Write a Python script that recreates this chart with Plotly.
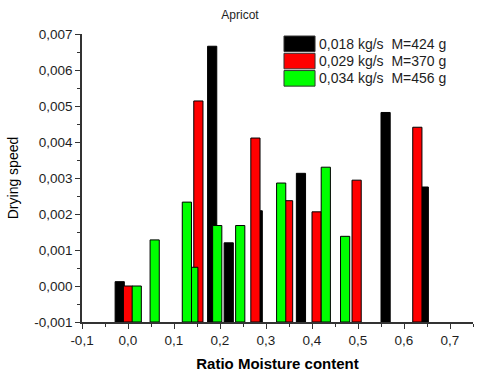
import plotly.graph_objects as go

# Ratio moisture content (x) and drying speed (y) for each air flow
black_x = [-0.018, 0.183, 0.219, 0.282, 0.376, 0.560, 0.643]
black_y = [0.00012, 0.00666, 0.00120, 0.00209, 0.00313, 0.00482, 0.00275]

red_x = [0.000, 0.153, 0.277, 0.348, 0.410, 0.497, 0.629]
red_y = [0.00000, 0.00514, 0.00411, 0.00237, 0.00206, 0.00294, 0.00441]

green_x = [0.019, 0.058, 0.142, 0.128, 0.194, 0.244, 0.333, 0.430, 0.472]
green_y = [0.00000, 0.00128, 0.00052, 0.00233, 0.00168, 0.00168, 0.00286, 0.00330, 0.00138]

series_names = ["0,018 kg/s\u00a0 M=424 g", "0,029 kg/s\u00a0 M=370 g", "0,034 kg/s\u00a0 M=456 g"]
series_colors = ["#000000", "#ff0000", "#00ff00"]

y_ticks = [-0.001, 0.0, 0.001, 0.002, 0.003, 0.004, 0.005, 0.006, 0.007]
y_ticktext = ["-0,001", "0,000", "0,001", "0,002", "0,003", "0,004", "0,005", "0,006", "0,007"]
x_ticks = [-0.1, 0.0, 0.1, 0.2, 0.3, 0.4, 0.5, 0.6, 0.7]
x_ticktext = ["-0,1", "0,0", "0,1", "0,2", "0,3", "0,4", "0,5", "0,6", "0,7"]

Y_MIN = -0.001
FONT = "Liberation Sans, Arial, sans-serif"
TEXT_COLOR = "#1e1e1e"

fig = go.Figure()
for xs, ys, name, color in zip(
    [black_x, red_x, green_x], [black_y, red_y, green_y], series_names, series_colors
):
    fig.add_trace(
        go.Bar(
            x=xs,
            y=[v - Y_MIN for v in ys],
            base=Y_MIN,
            width=0.02,
            name=name,
            marker=dict(color=color, line=dict(color="#000000", width=1)),
            showlegend=False,
        )
    )

# hand-made legend with big swatches like the original
row_h = 0.06
for i, (name, color) in enumerate(zip(series_names, series_colors)):
    top = 0.993 - i * row_h
    fig.add_shape(
        type="rect", xref="paper", yref="paper",
        x0=0.5166, x1=0.596, y0=top - 0.054, y1=top,
        fillcolor=color, line=dict(color="#333333", width=1),
    )
    fig.add_annotation(
        xref="paper", yref="paper", x=0.602, y=top - 0.027,
        text=name, showarrow=False, xanchor="left", yanchor="middle",
        font=dict(family=FONT, size=14, color=TEXT_COLOR),
    )

axis_common = dict(
    showgrid=False,
    zeroline=False,
    showline=True,
    automargin=False,
    linecolor="#333333",
    linewidth=1.5,
    ticks="outside",
    ticklen=5,
    tickwidth=1,
    tickcolor="#333333",
    tickfont=dict(family=FONT, size=13.5, color=TEXT_COLOR),
)

fig.update_xaxes(
    range=[-0.1, 0.75],
    tickmode="array",
    tickvals=x_ticks,
    ticktext=x_ticktext,
    minor=dict(tickmode="linear", tick0=0, dtick=0.05, ticklen=3, ticks="outside", tickcolor="#333333"),
    title=dict(text="<b>Ratio Moisture content</b>", font=dict(family=FONT, size=15, color="#000000"), standoff=12),
    **axis_common,
)
fig.update_yaxes(
    range=[-0.001, 0.007],
    tickmode="array",
    tickvals=y_ticks,
    ticktext=y_ticktext,
    minor=dict(tickmode="linear", tick0=0, dtick=0.0005, ticklen=3, ticks="outside", tickcolor="#333333"),
    title=dict(text="Drying speed", font=dict(family=FONT, size=14, color="#000000"), standoff=12),
    **axis_common,
)

fig.update_layout(
    width=480,
    height=378,
    margin=dict(l=82, r=7, t=34, b=56),
    barmode="overlay",
    plot_bgcolor="white",
    paper_bgcolor="white",
    title=dict(
        text="Apricot", x=0.5, xanchor="center", y=0.962, yanchor="middle",
        font=dict(family=FONT, size=12, color=TEXT_COLOR),
    ),
)

# the page body has a default 8px margin; drop it so the figure fills the window
fig.write_html(
    "out.html",
    config={"displayModeBar": False},
    post_script="document.body.style.margin='0';",
)
